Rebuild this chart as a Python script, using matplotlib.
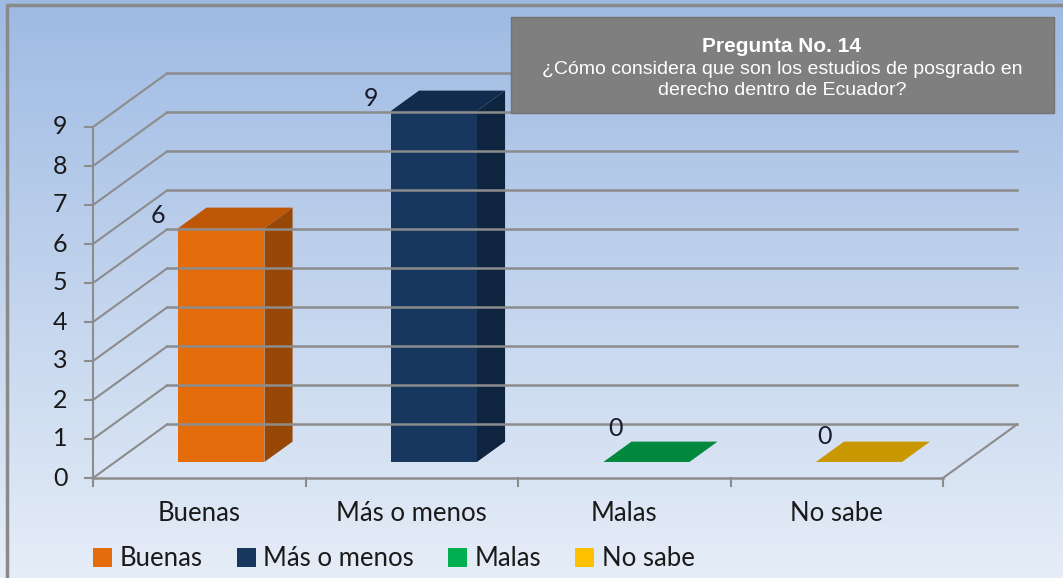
import numpy as np
import matplotlib.pyplot as plt
from matplotlib.patches import Polygon, Rectangle, Patch

plt.rcParams['font.family'] = ['Lato', 'DejaVu Sans']

categories = ['Buenas', 'Más o menos', 'Malas', 'No sabe']
values = [6, 9, 0, 0]
front_cols = ['#E46C0A', '#17375E', '#00A04A', '#E0A800']
top_cols = ['#BD5706', '#112B4C', '#00883E', '#C99700']
side_cols = ['#974806', '#0F243E', '#006B30', '#A07800']
legend_cols = ['#E46C0A', '#17375E', '#00B050', '#FFC000']
yticks = list(range(10))

W, H = 1063, 578
fig = plt.figure(figsize=(W / 100, H / 100), dpi=100)

# background gradient
bg = fig.add_axes([0, 0, 1, 1])
grad = np.linspace(0, 1, 256)[:, None]
top = np.array([0.62, 0.73, 0.89])
bot = np.array([0.90, 0.93, 0.97])
img = top[None, None, :] * (1 - grad[:, :, None]) + bot[None, None, :] * grad[:, :, None]
bg.imshow(img, aspect='auto', extent=[0, 1, 0, 1])
bg.set_xlim(0, 1)
bg.set_ylim(0, 1)
bg.axis('off')
bg.plot([7 / W, 7 / W, 1], [0, 1 - 5 / H, 1 - 5 / H], color='#8a8a8a', lw=2.5)

# chart axes: front plane x 0..4 (93..943 px), y 0..9 (478..127 px)
ax = fig.add_axes([93 / W, (H - 478) / H, 850 / W, 351 / H])
ax.set_xlim(0, 4)
ax.set_ylim(0, 9)
ax.axis('off')

dx, dy = 0.348, 1.372     # depth offset in data units
gcol = '#8c8c8c'
n = len(categories)

for v in yticks:
    ax.plot([dx, n + dx], [v + dy, v + dy], color=gcol, lw=1.8, clip_on=False)
    ax.plot([0, dx], [v, v + dy], color=gcol, lw=1.5, clip_on=False)
    ax.plot([-0.04, 0], [v, v], color=gcol, lw=1.5, clip_on=False)
    ax.text(-0.12, v, str(v), ha='right', va='center', fontsize=18, color='#1a1a1a')
ax.plot([0, 0], [0, 9], color=gcol, lw=1.5, clip_on=False)
ax.plot([0, n], [0, 0], color=gcol, lw=1.8, clip_on=False)
ax.plot([n, n + dx], [0, dy], color=gcol, lw=1.5, clip_on=False)
for i in range(n + 1):
    ax.plot([i, i], [0, -0.2], color=gcol, lw=1.5, clip_on=False)

bw = 0.405
d0, d1 = 0.3, 0.68
for i, (v, cat) in enumerate(zip(values, categories)):
    cx = i + 0.5
    x0 = cx - bw / 2 + d0 * dx
    x1 = cx + bw / 2 + d0 * dx
    y0 = d0 * dy
    ox, oy = (d1 - d0) * dx, (d1 - d0) * dy
    top_face = [(x0, y0 + v), (x1, y0 + v), (x1 + ox, y0 + v + oy), (x0 + ox, y0 + v + oy)]
    if v > 0:
        ax.add_patch(Polygon([(x1, y0), (x1 + ox, y0 + oy), (x1 + ox, y0 + v + oy), (x1, y0 + v)],
                             closed=True, fc=side_cols[i], ec='none', clip_on=False))
        ax.add_patch(Rectangle((x0, y0), bw, v, fc=front_cols[i], ec='none', clip_on=False))
        ax.add_patch(Polygon(top_face, closed=True, fc=top_cols[i], ec='none', clip_on=False))
        off = (-20, 12)
    else:
        ax.add_patch(Polygon(top_face, closed=True, fc=top_cols[i], ec='none', clip_on=False))
        off = (12 - 3 * (i - 2), 22 - 8 * (i - 2))
    ax.annotate(str(v), (x0, y0 + v), xytext=off, textcoords='offset pixels',
                ha='center', va='center' if v > 0 else 'bottom', fontsize=18,
                color='#1a1a2a', annotation_clip=False)
    ax.text(cx, -0.6, cat, ha='center', va='top', fontsize=18.5, color='#1a1a1a')

# title box
fig.patches.append(Rectangle((511 / W, (H - 113) / H), 543 / W, 96 / H, transform=fig.transFigure,
                             fc='#7f7f7f', ec='#737373', lw=1))
tf = ['Liberation Sans', 'DejaVu Sans']
fig.text(782 / W, (H - 46) / H, 'Pregunta No. 14', ha='center', va='center', color='white',
         fontsize=15, fontweight='bold', family=tf)
fig.text(782 / W, (H - 69) / H, '¿Cómo considera que son los estudios de posgrado en',
         ha='center', va='center', color='white', fontsize=14, family=tf)
fig.text(782 / W, (H - 90) / H, 'derecho dentro de Ecuador?',
         ha='center', va='center', color='white', fontsize=14, family=tf)

handles = [Patch(fc=c, ec='none') for c in legend_cols]
fig.legend(handles, categories, loc='center left', bbox_to_anchor=(70 / W, (H - 559) / H),
           ncol=4, frameon=False, fontsize=18.5, handlelength=0.75, handleheight=0.75,
           handletextpad=0.3, columnspacing=1.3, labelcolor='#1a1a1a')

plt.savefig('out.png', dpi=100)
